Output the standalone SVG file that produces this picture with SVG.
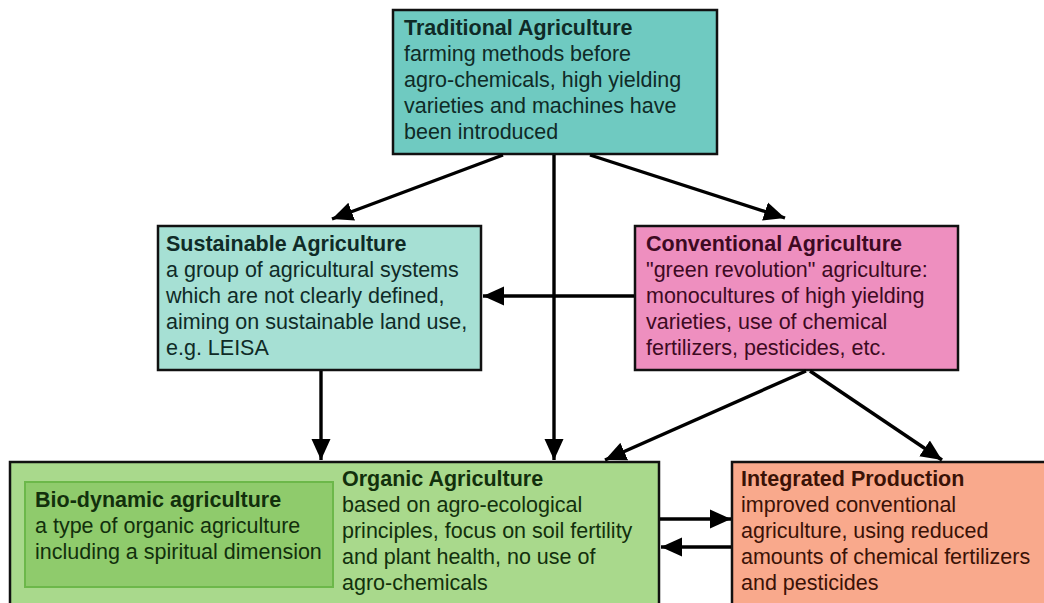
<svg xmlns="http://www.w3.org/2000/svg" width="1044" height="603" viewBox="0 0 1044 603">
  <defs>
    <style>
      .box { stroke: #111; stroke-width: 2.5; }
      .t { font-family: "Liberation Sans", Arial, sans-serif; font-size: 21.5px; }
      .b { font-weight: bold; }
      .teal { fill: #0f2b27; }
      .pink { fill: #3d0a22; }
      .green { fill: #12300c; }
      .salmon { fill: #3b1206; }
      .conn { stroke: #000; stroke-width: 3.4; fill: none; marker-end: url(#ah); }
    </style>
    <marker id="ah" markerUnits="userSpaceOnUse" markerWidth="22" markerHeight="20" refX="21" refY="9.5" orient="auto" viewBox="0 0 22 19">
      <path d="M0,0 L21,9.5 L0,19 Z" fill="#000"/>
    </marker>
  </defs>
  <rect width="1044" height="603" fill="#fff"/>

  <g id="traditional">
    <rect class="box" x="393" y="10" width="324" height="144" fill="#6fcac1"/>
    <text class="t teal">
      <tspan class="b" x="404" y="35">Traditional Agriculture</tspan>
      <tspan x="404" y="61">farming methods before</tspan>
      <tspan x="404" y="87">agro-chemicals, high yielding</tspan>
      <tspan x="404" y="113">varieties and machines have</tspan>
      <tspan x="404" y="139">been introduced</tspan>
    </text>
  </g>

  <g id="sustainable">
    <rect class="box" x="158" y="226" width="323" height="144" fill="#a6e0d4"/>
    <text class="t teal">
      <tspan class="b" x="166" y="251">Sustainable Agriculture</tspan>
      <tspan x="166" y="277">a group of agricultural systems</tspan>
      <tspan x="166" y="303">which are not clearly defined,</tspan>
      <tspan x="166" y="329">aiming on sustainable land use,</tspan>
      <tspan x="166" y="355">e.g. LEISA</tspan>
    </text>
  </g>

  <g id="conventional">
    <rect class="box" x="635" y="226" width="323" height="144" fill="#ee8fbf"/>
    <text class="t pink">
      <tspan class="b" x="646" y="251">Conventional Agriculture</tspan>
      <tspan x="646" y="277">"green revolution" agriculture:</tspan>
      <tspan x="646" y="303">monocultures of high yielding</tspan>
      <tspan x="646" y="329">varieties, use of chemical</tspan>
      <tspan x="646" y="355">fertilizers, pesticides, etc.</tspan>
    </text>
  </g>

  <g id="organic">
    <rect class="box" x="10" y="462" width="649" height="160" fill="#a9d98c"/>
    <text class="t green">
      <tspan class="b" x="342" y="486">Organic Agriculture</tspan>
      <tspan x="342" y="512">based on agro-ecological</tspan>
      <tspan x="342" y="538">principles, focus on soil fertility</tspan>
      <tspan x="342" y="564">and plant health, no use of</tspan>
      <tspan x="342" y="590">agro-chemicals</tspan>
    </text>
  </g>

  <g id="biodynamic">
    <rect x="25" y="482" width="308" height="105" fill="#8fcb6c" stroke="#6cb84a" stroke-width="2"/>
    <text class="t green">
      <tspan class="b" x="35" y="507">Bio-dynamic agriculture</tspan>
      <tspan x="35" y="533">a type of organic agriculture</tspan>
      <tspan x="35" y="559">including a spiritual dimension</tspan>
    </text>
  </g>

  <g id="integrated">
    <rect class="box" x="732" y="462" width="330" height="160" fill="#f9a98c"/>
    <text class="t salmon">
      <tspan class="b" x="741" y="486">Integrated Production</tspan>
      <tspan x="741" y="512">improved conventional</tspan>
      <tspan x="741" y="538">agriculture, using reduced</tspan>
      <tspan x="741" y="564">amounts of chemical fertilizers</tspan>
      <tspan x="741" y="590">and pesticides</tspan>
    </text>
  </g>

  <g id="connectors">
    <line class="conn" x1="503" y1="155" x2="332" y2="219"/>
    <line class="conn" x1="590" y1="155" x2="785" y2="218"/>
    <line class="conn" x1="554" y1="155" x2="554" y2="460"/>
    <line class="conn" x1="634" y1="296" x2="483" y2="296"/>
    <line class="conn" x1="321" y1="371" x2="321" y2="460"/>
    <line class="conn" x1="806" y1="371" x2="605" y2="460"/>
    <line class="conn" x1="810" y1="371" x2="942" y2="460"/>
    <line class="conn" x1="660" y1="519" x2="731" y2="519"/>
    <line class="conn" x1="731" y1="547" x2="661" y2="547"/>
  </g>
</svg>
